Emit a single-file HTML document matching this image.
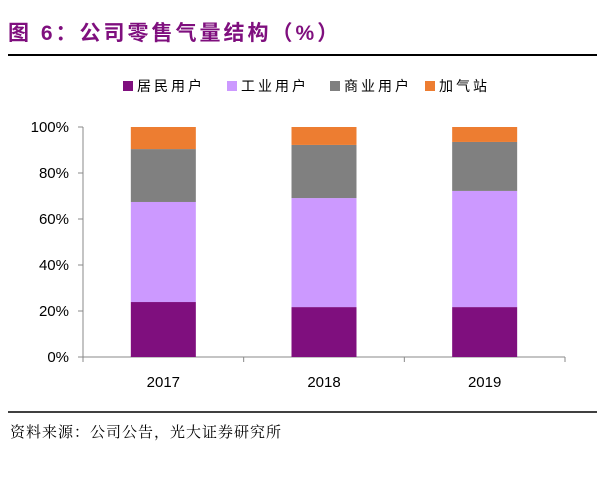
<!DOCTYPE html>
<html><head><meta charset="utf-8"><style>
body{margin:0;background:#fff;width:605px;height:478px;overflow:hidden;font-family:"Liberation Sans","Noto Sans CJK SC",sans-serif}
</style></head><body>
<svg width="605" height="478">
<text x="8" y="40" font-size="21" font-weight="bold" fill="#7f0f7e" letter-spacing="3" font-family="Liberation Sans, Noto Sans CJK SC, sans-serif">图 6：公司零售气量结构（%）</text>
<line x1="8" y1="55" x2="597" y2="55" stroke="#000" stroke-width="2"/>
<g id="legend"></g>
<g id="plot"></g>
<line x1="8" y1="412" x2="597" y2="412" stroke="#000" stroke-width="1.5"/>
<text x="10" y="437" font-size="15" fill="#000" letter-spacing="1" font-family="Liberation Serif, Noto Serif CJK SC, serif">资料来源：公司公告，光大证券研究所</text>
</svg>
<script>
const categories=["2017","2018","2019"];
const seriesNames=["居民用户","工业用户","商业用户","加气站"];
const resident=[23.9,21.7,21.7];
const industrial=[43.5,47.4,50.5];
const commercial=[23.0,23.1,21.3];
const station=[9.6,7.8,6.5];
const yTicks=[0,20,40,60,80,100];
const colors=["#7f0f7e","#cc99ff","#808080","#ed7d31"];
const NS="http://www.w3.org/2000/svg";
const plot=document.getElementById('plot'),legend=document.getElementById('legend');
const y0=357,y1=127,x0=83,xEnd=565;
const y=v=>y0-(v/100)*(y0-y1);
const band=(xEnd-x0)/categories.length;
const xc=i=>x0+band*(i+0.5);
function mk(tag,attrs,parent){const e=document.createElementNS(NS,tag);for(const k in attrs)e.setAttribute(k,attrs[k]);parent.appendChild(e);return e;}
let ax=mk('line',{x1:x0,y1:y0,x2:x0,y2:y1,stroke:'#888'},plot);


let bx=mk('line',{x1:x0,y1:y0,x2:xEnd,y2:y0,stroke:'#888'},plot);


for(let k=0;k<=categories.length;k++){
 let xt=mk('line',{x1:x0+band*k,x2:x0+band*k,y1:y0,y2:y0+5,stroke:'#888'},plot);
 
 
}
yTicks.forEach(t=>{
 let tk=mk('line',{x1:x0-5,x2:x0,y1:y(t),y2:y(t),stroke:'#888'},plot);
 
 
 let lb=mk('text',{x:x0-14,y:y(t)+5,'text-anchor':'end','font-size':'15',fill:'#000'},plot);
 lb.textContent=t+'%';
 
 
});
const series=[resident,industrial,commercial,station];
categories.forEach((c,i)=>{
 let acc=0;
 series.forEach((s,j)=>{
  let r=mk('rect',{x:xc(i)-32.5,width:65,y:y(acc+s[i]),height:y(acc)-y(acc+s[i]),fill:colors[j]},plot);
  
  
  acc+=s[i];
 });
 let l=mk('text',{x:xc(i),y:387,'text-anchor':'middle','font-size':'15',fill:'#000'},plot);
 l.textContent=c;
 
 
});
const lx=[123,227,330,425];
seriesNames.forEach((n,j)=>{
 let r=mk('rect',{x:lx[j],y:81,width:10,height:10,fill:colors[j]},legend);
 
 
 let t=mk('text',{x:lx[j]+14,y:91,'font-size':'14',fill:'#000','letter-spacing':'3'},legend);
 t.textContent=n;
 
 
});
</script>
</body></html>
